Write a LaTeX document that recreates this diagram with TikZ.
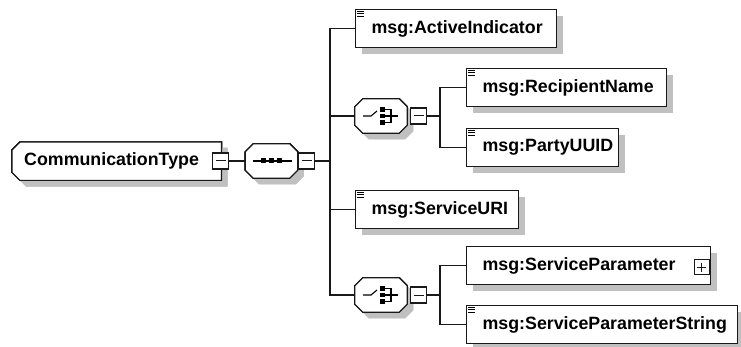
\documentclass[tikz,border=0pt]{standalone}
\usepackage{fontspec}
\setmainfont{Liberation Sans}
\usetikzlibrary{positioning,shadows,calc,backgrounds}
\definecolor{xsdshadow}{RGB}{192,192,192}
\definecolor{xsdline}{RGB}{25,25,25}

\tikzset{
  xsdshade/.style={drop shadow={shadow xshift=6pt,shadow yshift=-6pt,fill=xsdshadow,opacity=1}},
  elem/.style={rectangle,draw=xsdline,line width=1.2pt,fill=white,xsdshade,
    minimum height=38pt,inner xsep=16pt,inner ysep=0pt,text width=#1,align=left,
    font=\fontsize{17.8}{20}\selectfont\bfseries,anchor=north west},
  group/.style={rectangle,minimum width=52pt,minimum height=34pt,inner sep=0pt},
  minusbox/.style={rectangle,draw=xsdline,line width=1.1pt,fill=white,minimum size=16pt,inner sep=0pt,
    path picture={\draw[line width=1pt] ([xshift=3pt]path picture bounding box.west) -- ([xshift=-3pt]path picture bounding box.east);}},
  plusbox/.style={minusbox,minimum size=15pt,
    path picture={\draw[line width=1pt] ([xshift=3pt]path picture bounding box.west) -- ([xshift=-3pt]path picture bounding box.east)
      ([yshift=-3pt]path picture bounding box.north) -- ([yshift=3pt]path picture bounding box.south);}},
  link/.style={draw=xsdline,line width=1.2pt}
}
\newcommand{\elemicon}[1]{\foreach \i in {0,1,2} \draw[line width=0.9pt] ([shift={(2,2+2.8*\i)}]#1.north west) -- ++(7,0);}
% outline with cut corners: node, left cut, right cut
\newcommand{\cutpath}[3]{([shift={(#2,0)}]#1.north west) -- ([shift={(-#3,0)}]#1.north east) -- ([shift={(0,#3)}]#1.north east)
  -- ([shift={(0,-#3)}]#1.south east) -- ([shift={(-#3,0)}]#1.south east) -- ([shift={(#2,0)}]#1.south west)
  -- ([shift={(0,-#2)}]#1.south west) -- ([shift={(0,#2)}]#1.north west) -- cycle}

\begin{document}
\begin{tikzpicture}[x=1pt,y=-1pt]
\useasboundingbox (0,0) rectangle (741,347);
% root type
\node[rectangle,minimum height=38pt,inner xsep=12pt,inner ysep=0pt,text width=185pt,align=left,
  font=\fontsize{17.8}{20}\selectfont\bfseries,anchor=north west] (ct) at (12,142) {CommunicationType};
\node[minusbox] (ctm) at (220.5,161) {};
% sequence
\node[group] (seq) at (271.5,161) {};
\node[minusbox] (seqm) at (306.5,161) {};
\begin{scope}[shift={(seq.center)}]
  \draw[line width=1.1pt] (-19,0) -- (20,0);
  \foreach \s in {-8,0,8} \fill (\s-2.5,-2.5) rectangle (\s+2.5,2.5);
\end{scope}
% children of the sequence
\node[elem=169pt] (ai) at (355,9) {msg:ActiveIndicator};
\node[group] (ch1) at (381,116) {};
\node[minusbox] (ch1m) at (418.5,116) {};
\node[elem=131pt] (uri) at (355,190) {msg:ServiceURI};
\node[group] (ch2) at (381,295) {};
\node[minusbox] (ch2m) at (418.5,295) {};
\foreach \c in {ch1,ch2} {
  \begin{scope}[shift={(\c.center)}]
    \draw[line width=1.1pt] (-18,0) -- (-10,0) -- (-4,-5);
    \foreach \s in {-6.5,0,6.5} \fill (-0.8,\s-2.2) rectangle (3.7,\s+2.2);
    \draw[line width=1.1pt] (3.7,-6.5) -- (10,-6.5) -- (10,6.5) -- (3.7,6.5) (3.7,0) -- (17,0);
  \end{scope}
}
% choice 1
\node[elem=168pt] (rn) at (466,68) {msg:RecipientName};
\node[elem=120pt] (pu) at (466,128) {msg:PartyUUID};
% choice 2
\node[elem=212pt] (sp) at (466,246) {msg:ServiceParameter};
\node[plusbox] (spp) at ([xshift=-9.5pt,yshift=-1.5pt]sp.east) {};
\node[elem=239pt] (sps) at (466,305) {msg:ServiceParameterString};
\foreach \n in {ai,uri,rn,pu,sps} \elemicon{\n}
% outlines of the type and the groups
\begin{pgfonlayer}{background}
\foreach \n/\l/\r in {ct/8/0,seq/8/8,ch1/8/8,ch2/8/8} {
  \fill[xsdshadow,transform canvas={xshift=6pt,yshift=-6pt}] \cutpath{\n}{\l}{\r};
  \filldraw[fill=white,draw=xsdline,line width=1.2pt] \cutpath{\n}{\l}{\r};
}
\end{pgfonlayer}
% connectors
\draw[link] (ctm.east) -- (seq.west);
\draw[link] (seqm.east) -- ++(15,0) coordinate (trunk);
\foreach \n in {ai,ch1,uri,ch2} \draw[link] (trunk) |- (\n.west);
\draw[link] (ch1m.east) -- ++(13,0) coordinate (ch1t);
\foreach \n in {rn,pu} \draw[link] (ch1t) |- (\n.west);
\draw[link] (ch2m.east) -- ++(13,0) coordinate (ch2t);
\foreach \n in {sp,sps} \draw[link] (ch2t) |- (\n.west);
\end{tikzpicture}
\end{document}
